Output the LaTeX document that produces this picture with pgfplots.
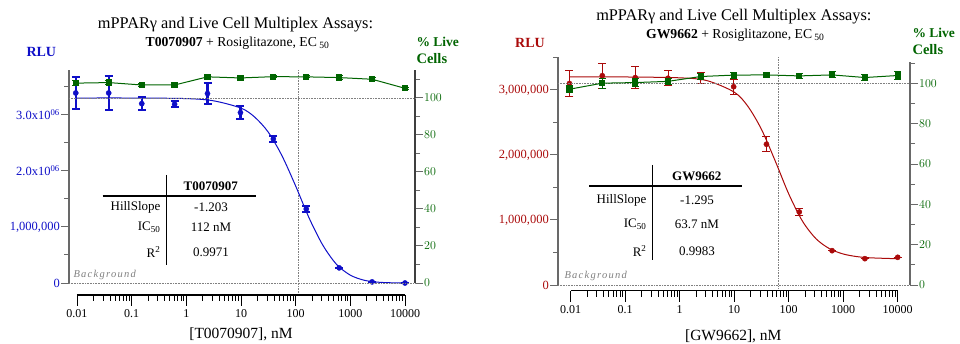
\documentclass[border=0pt]{standalone}
\usepackage{fontspec}
\setmainfont{Liberation Serif}
\usepackage{pgfplots}
\pgfplotsset{compat=1.18}

\definecolor{cblue}{RGB}{15,15,200}
\definecolor{cgreen}{RGB}{0,100,0}
\definecolor{cred}{RGB}{170,10,10}
\definecolor{axgray}{RGB}{105,105,105}

\newcommand{\fs}[1]{\fontsize{#1}{#1}\selectfont}

\begin{document}
\begin{tikzpicture}
\path[use as bounding box] (0,0) rectangle (960pt,343pt);

%================ LEFT PANEL =================
\begin{axis}[scale only axis, clip=false, xmode=log,
  axis line style={axgray, line width=1.3pt},
  tick style={axgray, line width=1pt},
  major tick length=8pt, minor tick length=5pt, tick align=outside,
  tick label style={font=\fs{12.5}}, scaled y ticks=false,
  at={(69pt,60pt)}, anchor=south west, width=346pt, height=213pt,
  xmin=0.00714, xmax=15240, ymin=0, ymax=3.8e6,
  axis x line=none, axis y line*=left,
  ytick={0,1e6,2e6,3e6},
  yticklabels={0,{1,000,000},{2.0x10\textsuperscript{06}},{3.0x10\textsuperscript{06}}},
  minor ytick={5e5,1.5e6,2.5e6,3.5e6},
  yticklabel style={text=cblue, inner sep=1pt}]
\addplot[gray, densely dotted, line width=0.6pt] coordinates {(112,-0.18e6) (112,3.8e6)};
\addplot[cblue, line width=1pt, smooth] coordinates {
 (0.0095,3.30e6) (0.1,3.30e6) (1,3.29e6) (3.16,3.25e6) (10,3.12e6) (17.8,2.96e6)
 (31.6,2.69e6) (56.2,2.27e6) (100,1.73e6) (178,1.15e6) (316,0.67e6) (562,0.33e6)
 (1000,0.14e6) (1778,0.05e6) (3162,0.015e6) (5623,0.004e6) (10000,0.0)};
\addplot[only marks, cblue, mark=*, mark size=2.6pt,
  error bars/.cd, y dir=both, y explicit,
  error bar style={line width=2.2pt, cblue},
  error mark options={rotate=90, mark size=4pt, line width=2pt, cblue}] coordinates {
 (0.0095,3.39e6) +- (0,0.29e6)
 (0.038,3.39e6) +- (0,0.30e6)
 (0.153,3.20e6) +- (0,0.12e6)
 (0.61,3.19e6) +- (0,0.05e6)
 (2.44,3.38e6) +- (0,0.185e6)
 (9.77,3.04e6) +- (0,0.11e6)
 (39.06,2.57e6) +- (0,0.05e6)
 (156.25,1.32e6) +- (0,0.05e6)
 (625,0.27e6) +- (0,0)
 (2500,0.02e6) +- (0,0)
 (10000,0.0) +- (0,0)};
\end{axis}

\begin{axis}[scale only axis, clip=false, xmode=log,
  axis line style={axgray!60!black, line width=1.3pt},
  tick style={axgray, line width=1pt},
  major tick length=8pt, minor tick length=5pt, tick align=outside,
  tick label style={font=\fs{12.5}},
  at={(69pt,60pt)}, anchor=south west, width=346pt, height=213pt,
  xmin=0.00714, xmax=15240, ymin=0, ymax=115.1,
  axis x line=none, axis y line*=right,
  ytick={0,20,40,60,80,100}, minor ytick={10,30,50,70,90,110},
  yticklabel style={text=cgreen, inner sep=1pt}]
\addplot[gray, densely dotted, line width=0.6pt] coordinates {(0.00714,100) (15240,100)};
\addplot[gray, densely dotted, line width=0.6pt] coordinates {(0.00714,0) (15240,0)};
\addplot[cgreen, line width=1pt, mark=square*, mark size=2.6pt,
  error bars/.cd, y dir=both, y explicit,
  error bar style={line width=1pt, cgreen},
  error mark options={rotate=90, mark size=3.5pt, line width=1pt, cgreen}] coordinates {
 (0.0095,108.0) +- (0,1.2)
 (0.038,108.3) +- (0,1.3)
 (0.153,107.0) +- (0,1.0)
 (0.61,107.0) +- (0,0.8)
 (2.44,111.4) +- (0,1.2)
 (9.77,110.8) +- (0,1.0)
 (39.06,111.5) +- (0,0.5)
 (156.25,111.4) +- (0,0.5)
 (625,111.0) +- (0,1.0)
 (2500,110.1) +- (0,0.8)
 (10000,105.2) +- (0,0.5)};
\end{axis}

\begin{axis}[scale only axis, clip=false, xmode=log, height=1pt, width=328pt,
  at={(77pt,48pt)}, anchor=south west,
  xmin=0.01, xmax=10000, ymin=0, ymax=1,
  axis y line=none, axis x line*=bottom,
  axis line style={black, line width=1.2pt},
  tick style={black, line width=0.8pt},
  major tick length=11pt, minor tick length=6pt, tick align=outside,
  xtick={0.01,0.1,1,10,100,1000,10000},
  xticklabels={0.01,0.1,1,10,100,1000,10000},
  tick label style={font=\fs{12}}]
\addplot[draw=none] coordinates {(1,0.5)};
\end{axis}

\node[font=\fs{16.3}] at (235.5pt,318pt) {mPPARγ and Live Cell Multiplex Assays:};
\node[font=\fs{13.7}] at (237.5pt,300pt) {\textbf{T0070907} + Rosiglitazone, EC\,\textsubscript{50}};
\node[font=\fs{14}\bfseries, text=cblue] at (41.3pt,291.3pt) {RLU};
\node[font=\fs{13.5}\bfseries, text=cgreen, anchor=west] at (413pt,301.3pt) {\% Live};
\node[font=\fs{14.5}\bfseries, text=cgreen, anchor=west] at (413pt,284pt) {Cells};
\node[font=\fs{15.5}] at (241pt,9pt) {[T0070907], nM};
\node[font=\fs{10.5}\itshape, text=gray, anchor=west] at (70pt,68pt) {\addfontfeature{LetterSpace=12}Background};

\draw[line width=1.5pt] (166.7pt,168pt) -- (166.7pt,78pt);
\draw[line width=1.5pt] (102.7pt,147pt) -- (255.7pt,147pt);
\node[font=\fs{13}\bfseries] at (210.7pt,157pt) {T0070907};
\node[font=\fs{13}, anchor=east] at (164pt,136pt) {HillSlope};
\node[font=\fs{13}, anchor=east] at (164pt,116pt) {IC\textsubscript{50}};
\node[font=\fs{13}, anchor=east] at (164pt,91pt) {R\textsuperscript{2}};
\node[font=\fs{13}] at (211pt,136pt) {-1.203};
\node[font=\fs{13}] at (211pt,116pt) {112 nM};
\node[font=\fs{13}] at (211pt,91pt) {0.9971};

%================ RIGHT PANEL =================
\begin{axis}[scale only axis, clip=false, xmode=log,
  axis line style={axgray, line width=1.3pt},
  tick style={axgray, line width=1pt},
  major tick length=8pt, minor tick length=5pt, tick align=outside,
  tick label style={font=\fs{12.5}}, scaled y ticks=false,
  at={(558pt,58pt)}, anchor=south west, width=352pt, height=228.3pt,
  xmin=0.00585, xmax=16815, ymin=0, ymax=3.512e6,
  axis x line=none, axis y line*=left,
  ytick={0,1e6,2e6,3e6},
  yticklabels={0,{1,000,000},{2,000,000},{3,000,000}},
  minor ytick={5e5,1.5e6,2.5e6,3.5e6},
  yticklabel style={text=cred, inner sep=1pt}]
\addplot[gray, densely dotted, line width=0.6pt] coordinates {(63.7,-0.05e6) (63.7,3.512e6)};
\addplot[cred, line width=1pt, smooth] coordinates {
 (0.0095,3.20e6) (0.1,3.20e6) (1,3.187e6) (3.16,3.144e6) (10,2.967e6) (17.8,2.749e6)
 (31.6,2.395e6) (56.2,1.914e6) (100,1.402e6) (178,0.985e6) (316,0.7125e6) (562,0.558e6)
 (1000,0.477e6) (1778,0.437e6) (3162,0.418e6) (10000,0.404e6)};
\addplot[only marks, cred, mark=*, mark size=2.6pt,
  error bars/.cd, y dir=both, y explicit,
  error bar style={line width=1pt, cred},
  error mark options={rotate=90, mark size=4pt, line width=1pt, cred}] coordinates {
 (0.0095,3.10e6) +- (0,0.20e6)
 (0.038,3.22e6) +- (0,0.19e6)
 (0.153,3.19e6) +- (0,0.17e6)
 (0.61,3.18e6) +- (0,0.115e6)
 (2.44,3.19e6) +- (0,0.085e6)
 (9.77,3.05e6) +- (0,0.115e6)
 (39.06,2.165e6) +- (0,0.115e6)
 (156.25,1.123e6) +- (0,0.05e6)
 (625,0.528e6) +- (0,0)
 (2500,0.405e6) +- (0,0)
 (10000,0.426e6) +- (0,0)};
\end{axis}

\begin{axis}[scale only axis, clip=false, xmode=log,
  axis line style={axgray, line width=1.3pt},
  tick style={axgray, line width=1pt},
  major tick length=8pt, minor tick length=5pt, tick align=outside,
  tick label style={font=\fs{12.5}},
  at={(558pt,58pt)}, anchor=south west, width=352pt, height=223pt,
  xmin=0.00585, xmax=16815, ymin=0, ymax=110.6,
  axis x line=none, axis y line*=right,
  ytick={0,20,40,60,80,100}, minor ytick={10,30,50,70,90,110},
  yticklabel style={text=cgreen, inner sep=1pt}]
\addplot[gray, densely dotted, line width=0.6pt] coordinates {(0.00585,100) (16815,100)};
\addplot[gray, densely dotted, line width=0.6pt] coordinates {(0.00585,0) (16815,0)};
\addplot[cgreen, line width=1pt, mark=square*, mark size=2.6pt,
  error bars/.cd, y dir=both, y explicit,
  error bar style={line width=1pt, cgreen},
  error mark options={rotate=90, mark size=3.5pt, line width=1pt, cgreen}] coordinates {
 (0.0095,97.1) +- (0,1.8)
 (0.038,100.1) +- (0,2.5)
 (0.153,100.4) +- (0,2.0)
 (0.61,101.0) +- (0,1.5)
 (2.44,103.4) +- (0,1.5)
 (9.77,104.1) +- (0,1.5)
 (39.06,104.2) +- (0,1.0)
 (156.25,103.7) +- (0,1.2)
 (625,104.2) +- (0,1.5)
 (2500,102.9) +- (0,1.5)
 (10000,103.9) +- (0,2.0)};
\end{axis}

\begin{axis}[scale only axis, clip=false, xmode=log, height=1pt, width=327pt,
  at={(570.7pt,52.3pt)}, anchor=south west,
  xmin=0.01, xmax=10000, ymin=0, ymax=1,
  axis y line=none, axis x line*=bottom,
  axis line style={black, line width=1.2pt},
  tick style={black, line width=0.8pt},
  major tick length=11pt, minor tick length=6pt, tick align=outside,
  xtick={0.01,0.1,1,10,100,1000,10000},
  xticklabels={0.01,0.1,1,10,100,1000,10000},
  tick label style={font=\fs{12}}]
\addplot[draw=none] coordinates {(1,0.5)};
\end{axis}

\node[font=\fs{16.3}] at (733.8pt,326.3pt) {mPPARγ and Live Cell Multiplex Assays:};
\node[font=\fs{13.7}] at (735.3pt,308pt) {\textbf{GW9662} + Rosiglitazone, EC\,\textsubscript{50}};
\node[font=\fs{14}\bfseries, text=cred] at (530pt,299.7pt) {RLU};
\node[font=\fs{13.5}\bfseries, text=cgreen, anchor=west] at (909pt,310.3pt) {\% Live};
\node[font=\fs{14.5}\bfseries, text=cgreen, anchor=west] at (909pt,293.7pt) {Cells};
\node[font=\fs{15.5}] at (733.3pt,6.3pt) {[GW9662], nM};
\node[font=\fs{10.5}\itshape, text=gray, anchor=west] at (561pt,67pt) {\addfontfeature{LetterSpace=12}Background};

\draw[line width=1.5pt] (652.7pt,178pt) -- (652.7pt,83pt);
\draw[line width=1.5pt] (589pt,157pt) -- (741.7pt,157pt);
\node[font=\fs{13}\bfseries] at (696.7pt,167pt) {GW9662};
\node[font=\fs{13}, anchor=east] at (650pt,142.3pt) {HillSlope};
\node[font=\fs{13}, anchor=east] at (650pt,119pt) {IC\textsubscript{50}};
\node[font=\fs{13}, anchor=east] at (650pt,92pt) {R\textsuperscript{2}};
\node[font=\fs{13}] at (697pt,142.3pt) {-1.295};
\node[font=\fs{13}] at (697pt,119pt) {63.7 nM};
\node[font=\fs{13}] at (697pt,92pt) {0.9983};
\end{tikzpicture}
\end{document}
